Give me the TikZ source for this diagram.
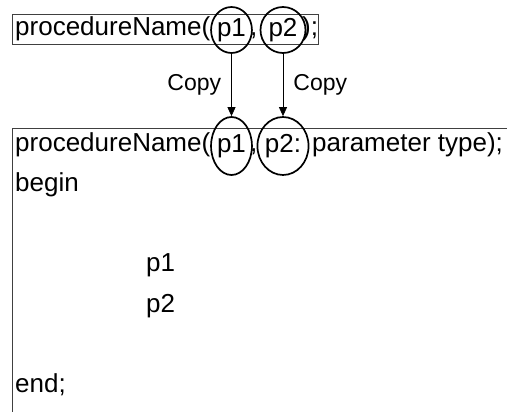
\documentclass[tikz,border=0pt]{standalone}
\usepackage{fontspec}
\setmainfont{Liberation Sans}
\usetikzlibrary{shapes.geometric,arrows.meta,positioning}
\begin{document}
\begin{tikzpicture}[x=1pt,y=-1pt,
    code/.style={anchor=base west,inner sep=0pt,font=\fontsize{26}{30}\selectfont},
    param/.style={ellipse,draw,line width=1.7pt,inner sep=0pt,font=\fontsize{26}{30}\selectfont},
    copyarrow/.style={-{Triangle[width=8pt,length=9pt]},line width=0.8pt},
    copylabel/.style={font=\fontsize{23}{26}\selectfont,inner sep=0pt}]
    \useasboundingbox (0,0) rectangle (507,412);
    \clip (0,0) rectangle (507,412);
    \draw[line width=0.8pt,black!75] (12.5,14) rectangle (318,44);
    \node[code] (callname) at (15,36) {procedureName(};
    \node[param,minimum width=38pt,minimum height=46pt] (callp1) at (231.5,30) {p1};
    \node[code] (callcomma) at (250,36) {,};
    \node[param,minimum width=45pt,minimum height=46pt] (callp2) at (283,30) {p2};
    \node[code] (callend) at (302,36) {);};
    \draw[line width=0.8pt,black!75] (12.5,520) -- (12.5,128.5) -- (520,128.5);
    \node[code] (declname) at (15,152) {procedureName(};
    \node[param,minimum width=38pt,minimum height=58pt] (declp1) at (231.5,146) {p1};
    \node[code] (declcomma) at (250,152) {,};
    \node[param,minimum width=45pt,minimum height=58pt] (declp2) at (283,146) {p2:};
    \node[code] (decltype) at (312,152) {parameter type);};
    \node[code] (begin) at (15,192) {begin};
    \node[code] (usep1) at (146,272) {p1};
    \node[code] (usep2) at (146,312) {p2};
    \node[code] (end) at (15,392) {end;};
    \draw[copyarrow] (callp1) -- (declp1) node[copylabel,midway,left=10pt] {Copy};
    \draw[copyarrow] (callp2) -- (declp2) node[copylabel,midway,right=10pt] {Copy};
\end{tikzpicture}
\end{document}
